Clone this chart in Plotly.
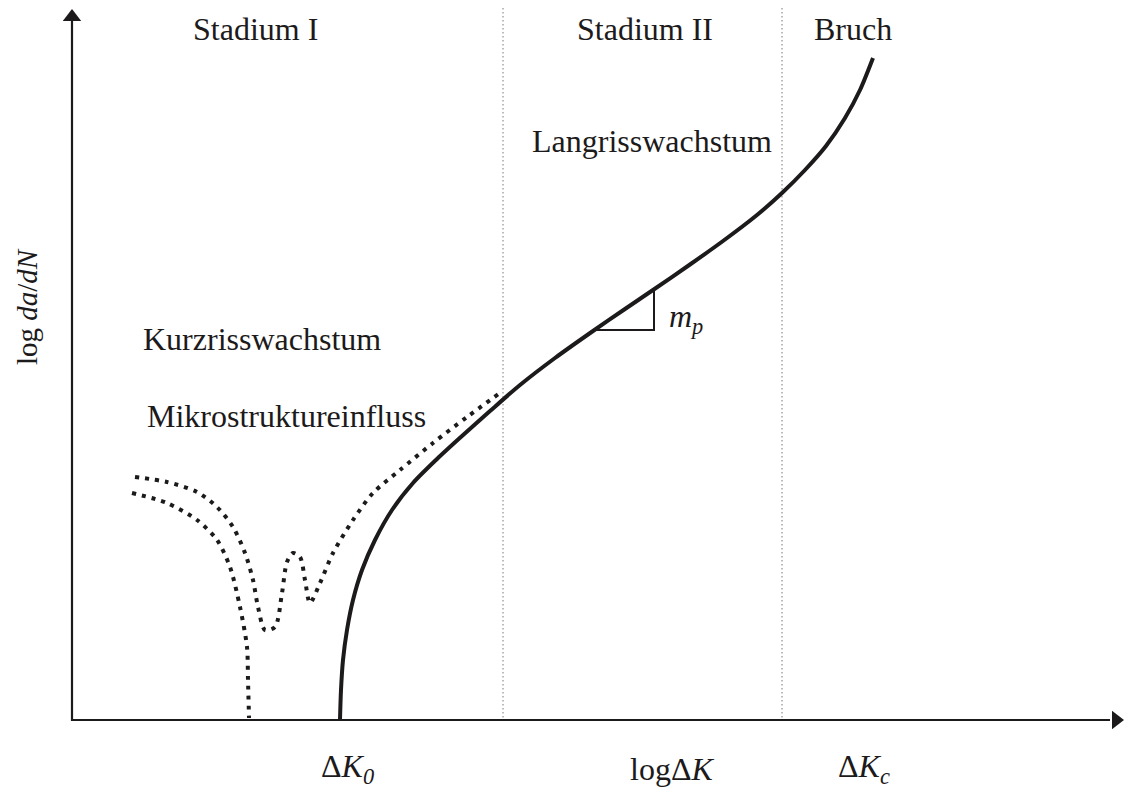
import plotly.graph_objects as go

# ---- data (schematic coordinates; x to the right, y downward) ----
# main (long crack) curve
long_x = [340, 341, 343, 347, 353, 362, 375, 392, 413, 437, 462, 490, 520, 555, 593, 625, 653, 690, 723, 757, 782, 805, 826, 845, 860, 873]
long_y = [720, 690, 660, 630, 600, 570, 540, 510, 483, 459, 436, 411, 385, 358, 331, 309, 290, 264.5, 241, 215, 193, 170, 146, 118, 90, 58]

# short crack curve with microstructural influence (upper dotted curve)
short_a_x = [135, 167, 197, 217, 233, 245, 253, 258, 265, 275, 282, 287, 293, 300, 305, 310, 320, 333, 353, 373, 400, 433, 467, 500]
short_a_y = [477, 482, 492, 507, 527, 553, 580, 607, 630, 627, 593, 562, 553, 557, 580, 603, 583, 553, 520, 493, 470, 443, 417, 393]

# short crack curve ending at threshold (lower dotted curve)
short_b_x = [132, 167, 197, 217, 230, 240, 247, 248, 249]
short_b_y = [493, 503, 520, 540, 567, 607, 647, 680, 718]

# slope triangle m_p
tri_x = [593, 654, 654]
tri_y = [330, 330, 288]

# stage boundaries
boundary_x = [503, 782]

# axes
y_axis_x = [72, 72]
y_axis_y = [721, 20]
x_axis_x = [71, 1110]
x_axis_y = [720, 720]

labels = [
    ("Stadium I", 255, 29),
    ("Stadium II", 645, 29),
    ("Bruch", 853, 29),
    ("Langrisswachstum", 652, 141),
    ("Kurzrisswachstum", 262, 339),
    ("Mikrostruktureinfluss", 286, 416),
]
tick_labels = [
    ("Δ<i>K</i><sub><i>0</i></sub>", 347, 768),
    ("logΔ<i>K</i>", 672, 769),
    ("Δ<i>K</i><sub><i>c</i></sub>", 864, 768),
]

INK = "#1c1a1b"
FONT = "Liberation Serif"
FS = 32

fig = go.Figure()

# stage boundary lines
for bx in boundary_x:
    fig.add_trace(go.Scatter(x=[bx, bx], y=[8, 720], mode="lines",
                             line=dict(color="#7a7a7a", width=1, dash="1.5px,2.5px"),
                             hoverinfo="skip", showlegend=False))

# axes
fig.add_trace(go.Scatter(x=y_axis_x, y=y_axis_y, mode="lines",
                         line=dict(color=INK, width=2.2), showlegend=False, hoverinfo="skip"))
fig.add_trace(go.Scatter(x=x_axis_x, y=x_axis_y, mode="lines",
                         line=dict(color=INK, width=2.2), showlegend=False, hoverinfo="skip"))
fig.add_trace(go.Scatter(x=[72], y=[17], mode="markers",
                         marker=dict(symbol="triangle-up", size=16, color=INK),
                         showlegend=False, hoverinfo="skip"))
fig.add_trace(go.Scatter(x=[1116], y=[720], mode="markers",
                         marker=dict(symbol="triangle-right", size=16, color=INK),
                         showlegend=False, hoverinfo="skip"))

# dotted short crack curves
fig.add_trace(go.Scatter(x=short_a_x, y=short_a_y, mode="lines",
                         line=dict(color=INK, width=4, dash="4px,6px", shape="spline", smoothing=0.8),
                         showlegend=False, hoverinfo="skip"))
fig.add_trace(go.Scatter(x=short_b_x, y=short_b_y, mode="lines",
                         line=dict(color=INK, width=4, dash="4px,6px", shape="spline", smoothing=0.8),
                         showlegend=False, hoverinfo="skip"))

# main curve
fig.add_trace(go.Scatter(x=long_x, y=long_y, mode="lines",
                         line=dict(color=INK, width=4, shape="spline", smoothing=0.8),
                         showlegend=False, hoverinfo="skip"))

# slope triangle
fig.add_trace(go.Scatter(x=tri_x, y=tri_y, mode="lines",
                         line=dict(color=INK, width=2), showlegend=False, hoverinfo="skip"))

annotations = []
for text, x, y in labels:
    annotations.append(dict(x=x, y=y, text=text, showarrow=False, xref="x", yref="y",
                            xanchor="center", yanchor="middle",
                            font=dict(family=FONT, size=FS, color=INK)))
for text, x, y in tick_labels:
    annotations.append(dict(x=x, y=y, text=text, showarrow=False, xref="x", yref="y",
                            xanchor="center", yanchor="middle",
                            font=dict(family=FONT, size=FS, color=INK)))
annotations.append(dict(x=667, y=318, text="<i>m</i><sub><i>p</i></sub>", showarrow=False,
                        xref="x", yref="y", xanchor="left", yanchor="middle",
                        font=dict(family=FONT, size=FS, color=INK)))
annotations.append(dict(x=27, y=307, text="log <i>da</i>/<i>dN</i>", showarrow=False,
                        xref="x", yref="y", xanchor="center", yanchor="middle", textangle=-90,
                        font=dict(family=FONT, size=29, color=INK)))

fig.update_layout(
    width=1125, height=789,
    margin=dict(l=0, r=0, t=0, b=0),
    paper_bgcolor="white", plot_bgcolor="white",
    xaxis=dict(range=[0, 1125], visible=False, fixedrange=True),
    yaxis=dict(range=[789, 0], visible=False, fixedrange=True),
    annotations=annotations,
    showlegend=False,
)

fig.write_html("out.html", config={"displayModeBar": False},
               post_script="document.body.style.margin='0px';document.body.style.overflow='hidden';")
